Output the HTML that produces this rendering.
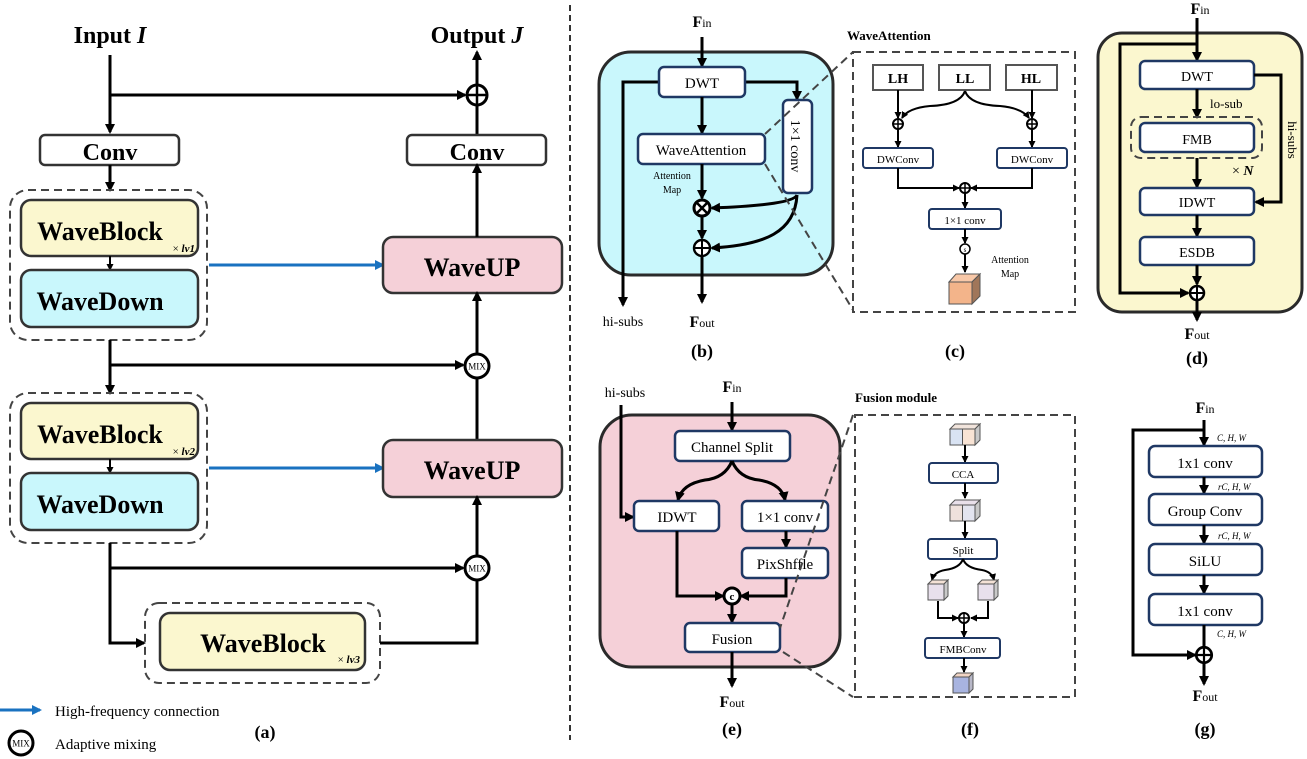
<!DOCTYPE html>
<html><head><meta charset="utf-8">
<style>
html,body{margin:0;padding:0;background:#fff;}
svg{display:block;}
text{font-family:"Liberation Serif",serif;fill:#000;}
.b{font-weight:bold;}
.bx{fill:#fff;stroke:#1f3864;stroke-width:2.5;}
.ln{fill:none;stroke:#000;stroke-width:3;}
.ln2{fill:none;stroke:#000;stroke-width:2;}
.dash{fill:none;stroke:#444;stroke-width:2;stroke-dasharray:8 5;}
</style></head><body>
<svg width="1307" height="759" viewBox="0 0 1307 759" xmlns="http://www.w3.org/2000/svg">
<defs>
<marker id="a" markerWidth="10" markerHeight="10" refX="8" refY="5" orient="auto" markerUnits="userSpaceOnUse"><path d="M0,0 L10,5 L0,10 z" fill="#000"/></marker>
<marker id="as" markerWidth="7" markerHeight="7" refX="6" refY="3.5" orient="auto" markerUnits="userSpaceOnUse"><path d="M0,0 L7,3.5 L0,7 z" fill="#000"/></marker>
<marker id="ab" markerWidth="10" markerHeight="10" refX="8" refY="5" orient="auto" markerUnits="userSpaceOnUse"><path d="M0,0 L10,5 L0,10 z" fill="#1a72c0"/></marker>
<g id="plus"><circle r="10" fill="#fff" stroke="#000" stroke-width="3"/><path d="M-10,0H10M0,-10V10" stroke="#000" stroke-width="2.5"/></g>
<g id="plusS"><circle r="7" fill="#fff" stroke="#000" stroke-width="2.5"/><path d="M-7,0H7M0,-7V7" stroke="#000" stroke-width="2"/></g>
<g id="plusT"><circle r="5" fill="#fff" stroke="#000" stroke-width="2"/><path d="M-5,0H5M0,-5V5" stroke="#000" stroke-width="1.5"/></g>
<g id="mix"><circle r="12" fill="#fff" stroke="#000" stroke-width="3"/><text y="3.5" text-anchor="middle" font-size="9">MIX</text></g>
<g id="cube"><path d="M0,4 L4,0 L20,0 L16,4 z" fill="#f4e2d6" stroke="#555"/><path d="M16,4 L20,0 L20,16 L16,20 z" fill="#c9c9c9" stroke="#555"/><rect x="0" y="4" width="16" height="16" fill="#e8e0ec" stroke="#555"/></g>
</defs>

<!-- ===== Panel (a) ===== -->
<text x="110" y="43" class="b" font-size="24" text-anchor="middle">Input <tspan font-style="italic">I</tspan></text>
<text x="477" y="43" class="b" font-size="24" text-anchor="middle">Output <tspan font-style="italic">J</tspan></text>
<path class="ln" d="M110,55 V132" marker-end="url(#a)"/>
<path class="ln" d="M110,95 H465" marker-end="url(#a)"/>
<use href="#plus" x="477" y="95"/>
<path class="ln" d="M477,85 V52" marker-end="url(#a)"/>
<path class="ln" d="M477,105 V135"/>
<rect x="40" y="135" width="139" height="30" rx="5" fill="#fff" stroke="#333" stroke-width="2.5"/>
<text x="110" y="160" class="b" font-size="24" text-anchor="middle">Conv</text>
<rect x="407" y="135" width="139" height="30" rx="5" fill="#fff" stroke="#333" stroke-width="2.5"/>
<text x="477" y="160" class="b" font-size="24" text-anchor="middle">Conv</text>
<path class="ln" d="M110,165 V190" marker-end="url(#a)"/>
<rect x="10" y="190" width="197" height="150" rx="18" class="dash" stroke="#000"/>
<rect x="21" y="200" width="177" height="56" rx="10" fill="#fbf7cf" stroke="#333" stroke-width="2.5"/>
<text x="100" y="240" class="b" font-size="26" text-anchor="middle">WaveBlock</text>
<text x="195" y="252" font-size="11" text-anchor="end">× <tspan font-style="italic" font-weight="bold">lv1</tspan></text>
<path class="ln2" d="M110,256 V270" marker-end="url(#as)"/>
<rect x="21" y="270" width="177" height="57" rx="10" fill="#c9f7fc" stroke="#333" stroke-width="2.5"/>
<text x="100" y="310" class="b" font-size="26" text-anchor="middle">WaveDown</text>
<path d="M209,265 H383" stroke="#1a72c0" stroke-width="3" marker-end="url(#ab)"/>
<rect x="383" y="237" width="179" height="56" rx="10" fill="#f5d0d8" stroke="#333" stroke-width="2.5"/>
<text x="472" y="276" class="b" font-size="26" text-anchor="middle">WaveUP</text>
<path class="ln" d="M477,237 V165" marker-end="url(#a)"/>
<path class="ln" d="M477,354 V293" marker-end="url(#a)"/>
<path class="ln" d="M110,340 V393" marker-end="url(#a)"/>
<path class="ln" d="M110,365 H463" marker-end="url(#a)"/>
<use href="#mix" x="477" y="366"/>
<path class="ln" d="M477,378 V440"/>

<rect x="10" y="393" width="197" height="150" rx="18" class="dash" stroke="#000"/>
<rect x="21" y="403" width="177" height="56" rx="10" fill="#fbf7cf" stroke="#333" stroke-width="2.5"/>
<text x="100" y="443" class="b" font-size="26" text-anchor="middle">WaveBlock</text>
<text x="195" y="455" font-size="11" text-anchor="end">× <tspan font-style="italic" font-weight="bold">lv2</tspan></text>
<path class="ln2" d="M110,459 V473" marker-end="url(#as)"/>
<rect x="21" y="473" width="177" height="57" rx="10" fill="#c9f7fc" stroke="#333" stroke-width="2.5"/>
<text x="100" y="513" class="b" font-size="26" text-anchor="middle">WaveDown</text>
<path d="M209,468 H383" stroke="#1a72c0" stroke-width="3" marker-end="url(#ab)"/>
<rect x="383" y="440" width="179" height="57" rx="10" fill="#f5d0d8" stroke="#333" stroke-width="2.5"/>
<text x="472" y="479" class="b" font-size="26" text-anchor="middle">WaveUP</text>
<path class="ln" d="M477,556 V497" marker-end="url(#a)"/>
<use href="#mix" x="477" y="568"/>
<path class="ln" d="M110,543 V643 H144" marker-end="url(#a)"/>
<path class="ln" d="M110,568 H463" marker-end="url(#a)"/>
<rect x="145" y="603" width="235" height="80" rx="14" class="dash" stroke="#000"/>
<rect x="160" y="613" width="205" height="57" rx="10" fill="#fbf7cf" stroke="#333" stroke-width="2.5"/>
<text x="263" y="652" class="b" font-size="26" text-anchor="middle">WaveBlock</text>
<text x="360" y="663" font-size="11" text-anchor="end">× <tspan font-style="italic" font-weight="bold">lv3</tspan></text>
<path class="ln" d="M380,643 H477 V580"/>
<path d="M0,710 H40" stroke="#1a72c0" stroke-width="3" marker-end="url(#ab)"/>
<text x="55" y="716" font-size="15">High-frequency connection</text>
<use href="#mix" x="21" y="743"/>
<text x="55" y="749" font-size="15">Adaptive mixing</text>
<text x="265" y="738" class="b" font-size="18" text-anchor="middle">(a)</text>
<path d="M570,5 V740" stroke="#333" stroke-width="2" stroke-dasharray="6 4"/>

<!-- ===== Panel (b) ===== -->
<text x="702" y="27" font-size="16" text-anchor="middle"><tspan class="b">F</tspan><tspan font-size="12">in</tspan></text>
<rect x="599" y="52" width="234" height="223" rx="32" fill="#c9f7fc" stroke="#2a2a2a" stroke-width="3"/>
<path class="ln" d="M702,37 V66" marker-end="url(#a)"/>
<path class="ln" d="M659,82 H623 V305" marker-end="url(#a)"/>
<path class="ln" d="M745,82 H797 V99" marker-end="url(#a)"/>
<rect x="659" y="67" width="86" height="30" rx="5" class="bx"/>
<text x="702" y="88" font-size="15" text-anchor="middle">DWT</text>
<path class="ln" d="M702,97 V133" marker-end="url(#a)"/>
<rect x="783" y="100" width="29" height="93" rx="5" class="bx"/>
<text transform="translate(791,146) rotate(90)" font-size="14" text-anchor="middle">1×1 conv</text>
<rect x="638" y="134" width="127" height="30" rx="5" class="bx"/>
<text x="701" y="155" font-size="15" text-anchor="middle">WaveAttention</text>
<text x="672" y="179" font-size="10" text-anchor="middle">Attention</text>
<text x="672" y="193" font-size="10" text-anchor="middle">Map</text>
<path class="ln" d="M702,164 V198" marker-end="url(#a)"/>
<circle cx="702" cy="208" r="8" fill="#fff" stroke="#000" stroke-width="3"/>
<path d="M696,202 L708,214 M708,202 L696,214" stroke="#000" stroke-width="2.5"/>
<path class="ln" d="M702,216 V238" marker-end="url(#a)"/>
<use href="#plus" x="702" y="248" transform="translate(702,248) scale(0.8) translate(-702,-248)"/>
<path class="ln" d="M702,256 V302" marker-end="url(#a)"/>
<path class="ln" d="M797,195 Q793,205 712,208" marker-end="url(#a)"/>
<path class="ln" d="M797,195 C795,232 765,245 712,248" marker-end="url(#a)"/>
<text x="623" y="326" font-size="14" text-anchor="middle">hi-subs</text>
<text x="702" y="327" font-size="16" text-anchor="middle"><tspan class="b">F</tspan><tspan font-size="12">out</tspan></text>
<text x="702" y="357" class="b" font-size="18" text-anchor="middle">(b)</text>
<path class="dash" d="M765,134 L853,52 M765,164 L853,310"/>

<!-- ===== Panel (c) ===== -->
<text x="847" y="40" class="b" font-size="13">WaveAttention</text>
<rect x="853" y="52" width="222" height="260" class="dash"/>
<rect x="873" y="65" width="50" height="25" fill="#fff" stroke="#555" stroke-width="2"/>
<rect x="939" y="65" width="51" height="25" fill="#fff" stroke="#555" stroke-width="2"/>
<rect x="1006" y="65" width="51" height="25" fill="#fff" stroke="#555" stroke-width="2"/>
<text x="898" y="83" class="b" font-size="14" text-anchor="middle">LH</text>
<text x="965" y="83" class="b" font-size="14" text-anchor="middle">LL</text>
<text x="1031" y="83" class="b" font-size="14" text-anchor="middle">HL</text>
<path class="ln2" d="M898,90 V118" marker-end="url(#as)"/>
<path class="ln2" d="M1032,90 V118" marker-end="url(#as)"/>
<path class="ln2" d="M965,91 Q960,105 930,106 Q908,108 902,118" marker-end="url(#as)"/>
<path class="ln2" d="M965,91 Q970,105 1000,106 Q1022,108 1029,118" marker-end="url(#as)"/>
<use href="#plusT" x="898" y="124"/>
<use href="#plusT" x="1032" y="124"/>
<path class="ln2" d="M898,129 V147" marker-end="url(#as)"/>
<path class="ln2" d="M1032,129 V147" marker-end="url(#as)"/>
<rect x="863" y="148" width="70" height="20" rx="3" fill="#fff" stroke="#1f3864" stroke-width="2"/>
<rect x="997" y="148" width="70" height="20" rx="3" fill="#fff" stroke="#1f3864" stroke-width="2"/>
<text x="898" y="163" font-size="11" text-anchor="middle">DWConv</text>
<text x="1032" y="163" font-size="11" text-anchor="middle">DWConv</text>
<path class="ln2" d="M898,168 V188 H959" marker-end="url(#as)"/>
<path class="ln2" d="M1032,168 V188 H971" marker-end="url(#as)"/>
<use href="#plusT" x="965" y="188"/>
<path class="ln2" d="M965,193 V208" marker-end="url(#as)"/>
<rect x="929" y="209" width="72" height="20" rx="3" fill="#fff" stroke="#1f3864" stroke-width="2"/>
<text x="965" y="224" font-size="11" text-anchor="middle">1×1 conv</text>
<path class="ln2" d="M965,229 V243" marker-end="url(#as)"/>
<circle cx="965" cy="249" r="5" fill="#fff" stroke="#000" stroke-width="1.5"/>
<text x="965" y="252" font-size="7" text-anchor="middle">s</text>
<path class="ln2" d="M965,254 V272" marker-end="url(#as)"/>
<path d="M949,282 L956,274 L980,274 L972,282 z" fill="#f8c8a8" stroke="#555"/>
<path d="M972,282 L980,274 L980,296 L972,304 z" fill="#a0765a" stroke="#555"/>
<rect x="949" y="282" width="23" height="22" fill="#f3b48a" stroke="#555"/>
<text x="1010" y="263" font-size="10" text-anchor="middle">Attention</text>
<text x="1010" y="277" font-size="10" text-anchor="middle">Map</text>
<text x="955" y="357" class="b" font-size="18" text-anchor="middle">(c)</text>

<!-- ===== Panel (d) ===== -->
<text x="1200" y="14" font-size="16" text-anchor="middle"><tspan class="b">F</tspan><tspan font-size="12">in</tspan></text>
<rect x="1098" y="33" width="204" height="279" rx="24" fill="#fbf7cf" stroke="#2a2a2a" stroke-width="3"/>
<path class="ln" d="M1197,18 V60" marker-end="url(#a)"/>
<path class="ln" d="M1197,44 H1120 V293 H1188" marker-end="url(#a)"/>
<rect x="1140" y="61" width="114" height="28" rx="5" class="bx"/>
<text x="1197" y="81" font-size="14" text-anchor="middle">DWT</text>
<path class="ln" d="M1197,89 V117" marker-end="url(#a)"/>
<text x="1210" y="108" font-size="13">lo-sub</text>
<rect x="1131" y="117" width="131" height="41" rx="10" class="dash" stroke="#000"/>
<rect x="1140" y="123" width="114" height="29" rx="5" class="bx"/>
<text x="1197" y="144" font-size="14" text-anchor="middle">FMB</text>
<text x="1232" y="175" font-size="14">× <tspan class="b" font-style="italic">N</tspan></text>
<path class="ln" d="M1197,158 V187" marker-end="url(#a)"/>
<rect x="1140" y="188" width="114" height="27" rx="5" class="bx"/>
<text x="1197" y="207" font-size="14" text-anchor="middle">IDWT</text>
<path class="ln" d="M1254,75 H1281 V202 H1256" marker-end="url(#a)"/>
<text transform="translate(1288,140) rotate(90)" font-size="13" text-anchor="middle">hi-subs</text>
<path class="ln" d="M1197,215 V236" marker-end="url(#a)"/>
<rect x="1140" y="237" width="114" height="28" rx="5" class="bx"/>
<text x="1197" y="257" font-size="14" text-anchor="middle">ESDB</text>
<path class="ln" d="M1197,265 V284" marker-end="url(#a)"/>
<use href="#plusS" x="1197" y="293"/>
<path class="ln" d="M1197,300 V320" marker-end="url(#a)"/>
<text x="1197" y="339" font-size="16" text-anchor="middle"><tspan class="b">F</tspan><tspan font-size="12">out</tspan></text>
<text x="1197" y="364" class="b" font-size="18" text-anchor="middle">(d)</text>

<!-- ===== Panel (e) ===== -->
<text x="732" y="392" font-size="16" text-anchor="middle"><tspan class="b">F</tspan><tspan font-size="12">in</tspan></text>
<text x="625" y="397" font-size="14" text-anchor="middle">hi-subs</text>
<rect x="600" y="415" width="240" height="252" rx="32" fill="#f5d0d8" stroke="#2a2a2a" stroke-width="3"/>
<path class="ln" d="M732,402 V430" marker-end="url(#a)"/>
<rect x="675" y="431" width="115" height="30" rx="5" class="bx"/>
<text x="732" y="452" font-size="15" text-anchor="middle">Channel Split</text>
<path class="ln" d="M732,461 Q725,478 705,480 Q682,484 678,500" marker-end="url(#a)"/>
<path class="ln" d="M732,461 Q739,478 759,480 Q782,484 785,500" marker-end="url(#a)"/>
<path class="ln" d="M621,405 V517 H633" marker-end="url(#a)"/>
<rect x="634" y="501" width="85" height="30" rx="5" class="bx"/>
<text x="677" y="522" font-size="15" text-anchor="middle">IDWT</text>
<rect x="742" y="501" width="86" height="30" rx="5" class="bx"/>
<text x="785" y="522" font-size="15" text-anchor="middle">1×1 conv</text>
<path class="ln" d="M786,531 V547" marker-end="url(#a)"/>
<rect x="742" y="548" width="86" height="30" rx="5" class="bx"/>
<text x="785" y="569" font-size="15" text-anchor="middle">PixShffle</text>
<path class="ln" d="M677,531 V596 H723" marker-end="url(#a)"/>
<path class="ln" d="M786,578 V596 H741" marker-end="url(#a)"/>
<circle cx="732" cy="596" r="8" fill="#fff" stroke="#000" stroke-width="3"/>
<text x="732" y="600" class="b" font-size="11" text-anchor="middle">c</text>
<path class="ln" d="M732,604 V622" marker-end="url(#a)"/>
<rect x="685" y="623" width="95" height="29" rx="5" class="bx"/>
<text x="732" y="644" font-size="15" text-anchor="middle">Fusion</text>
<path class="ln" d="M732,652 V686" marker-end="url(#a)"/>
<text x="732" y="707" font-size="16" text-anchor="middle"><tspan class="b">F</tspan><tspan font-size="12">out</tspan></text>
<text x="732" y="735" class="b" font-size="18" text-anchor="middle">(e)</text>
<path class="dash" d="M853,415 L780,628 M783,652 L853,697"/>

<!-- ===== Panel (f) ===== -->
<text x="855" y="402" class="b" font-size="13">Fusion module</text>
<rect x="855" y="415" width="220" height="282" class="dash"/>
<g transform="translate(950,424)">
<path d="M0,5 L5,0 L30,0 L25,5 z" fill="#f1e4dc" stroke="#555"/><path d="M25,5 L30,0 L30,16 L25,21 z" fill="#c8c8c8" stroke="#555"/>
<rect x="0" y="5" width="12.5" height="16" fill="#d9e3f3" stroke="#555"/><rect x="12.5" y="5" width="12.5" height="16" fill="#f8e3d4" stroke="#555"/></g>
<path class="ln2" d="M965,445 V462" marker-end="url(#as)"/>
<rect x="929" y="463" width="69" height="20" rx="3" fill="#fff" stroke="#1f3864" stroke-width="2"/>
<text x="963" y="478" font-size="11" text-anchor="middle">CCA</text>
<path class="ln2" d="M965,483 V498" marker-end="url(#as)"/>
<g transform="translate(950,500)">
<path d="M0,5 L5,0 L30,0 L25,5 z" fill="#e9e0ea" stroke="#555"/><path d="M25,5 L30,0 L30,16 L25,21 z" fill="#c8c8c8" stroke="#555"/>
<rect x="0" y="5" width="12.5" height="16" fill="#efe1dc" stroke="#555"/><rect x="12.5" y="5" width="12.5" height="16" fill="#e3e4ef" stroke="#555"/></g>
<path class="ln2" d="M965,521 V538" marker-end="url(#as)"/>
<rect x="928" y="539" width="69" height="20" rx="3" fill="#fff" stroke="#1f3864" stroke-width="2"/>
<text x="963" y="554" font-size="11" text-anchor="middle">Split</text>
<path class="ln2" d="M963,559 Q960,568 945,570 Q934,572 932,580" marker-end="url(#as)"/>
<path class="ln2" d="M963,559 Q966,568 982,570 Q992,572 994,580" marker-end="url(#as)"/>
<use href="#cube" x="928" y="580"/>
<use href="#cube" x="978" y="580"/>
<path class="ln2" d="M938,601 V618 H958" marker-end="url(#as)"/>
<path class="ln2" d="M988,601 V618 H971" marker-end="url(#as)"/>
<use href="#plusT" x="964" y="618"/>
<path class="ln2" d="M964,623 V637" marker-end="url(#as)"/>
<rect x="925" y="638" width="75" height="20" rx="3" fill="#fff" stroke="#1f3864" stroke-width="2"/>
<text x="963" y="653" font-size="11" text-anchor="middle">FMBConv</text>
<path class="ln2" d="M964,658 V672" marker-end="url(#as)"/>
<g transform="translate(953,673)">
<path d="M0,4 L4,0 L20,0 L16,4 z" fill="#f0d4c4" stroke="#555"/><path d="M16,4 L20,0 L20,16 L16,20 z" fill="#b8b8c8" stroke="#555"/><rect x="0" y="4" width="16" height="16" fill="#a8b4e0" stroke="#555"/></g>
<text x="970" y="735" class="b" font-size="18" text-anchor="middle">(f)</text>

<!-- ===== Panel (g) ===== -->
<text x="1205" y="413" font-size="16" text-anchor="middle"><tspan class="b">F</tspan><tspan font-size="12">in</tspan></text>
<path class="ln" d="M1204,420 V445" marker-end="url(#a)"/>
<path class="ln" d="M1204,430 H1133 V655 H1195" marker-end="url(#a)"/>
<text x="1217" y="441" font-size="9" font-style="italic">C, H, W</text>
<rect x="1149" y="446" width="113" height="31" rx="6" class="bx"/>
<text x="1205" y="468" font-size="15" text-anchor="middle">1x1 conv</text>
<path class="ln" d="M1204,477 V493" marker-end="url(#a)"/>
<text x="1218" y="490" font-size="9" font-style="italic">rC, H, W</text>
<rect x="1149" y="494" width="113" height="31" rx="6" class="bx"/>
<text x="1205" y="516" font-size="15" text-anchor="middle">Group Conv</text>
<path class="ln" d="M1204,525 V543" marker-end="url(#a)"/>
<text x="1218" y="539" font-size="9" font-style="italic">rC, H, W</text>
<rect x="1149" y="544" width="113" height="31" rx="6" class="bx"/>
<text x="1205" y="566" font-size="15" text-anchor="middle">SiLU</text>
<path class="ln" d="M1204,575 V593" marker-end="url(#a)"/>
<rect x="1149" y="594" width="113" height="31" rx="6" class="bx"/>
<text x="1205" y="616" font-size="15" text-anchor="middle">1x1 conv</text>
<path class="ln" d="M1204,625 V647"/>
<text x="1217" y="637" font-size="9" font-style="italic">C, H, W</text>
<use href="#plusS" x="1204" y="655" transform="translate(1204,655) scale(1.1) translate(-1204,-655)"/>
<path class="ln" d="M1204,663 V684" marker-end="url(#a)"/>
<text x="1205" y="701" font-size="16" text-anchor="middle"><tspan class="b">F</tspan><tspan font-size="12">out</tspan></text>
<text x="1205" y="735" class="b" font-size="18" text-anchor="middle">(g)</text>
</svg>
</body></html>
